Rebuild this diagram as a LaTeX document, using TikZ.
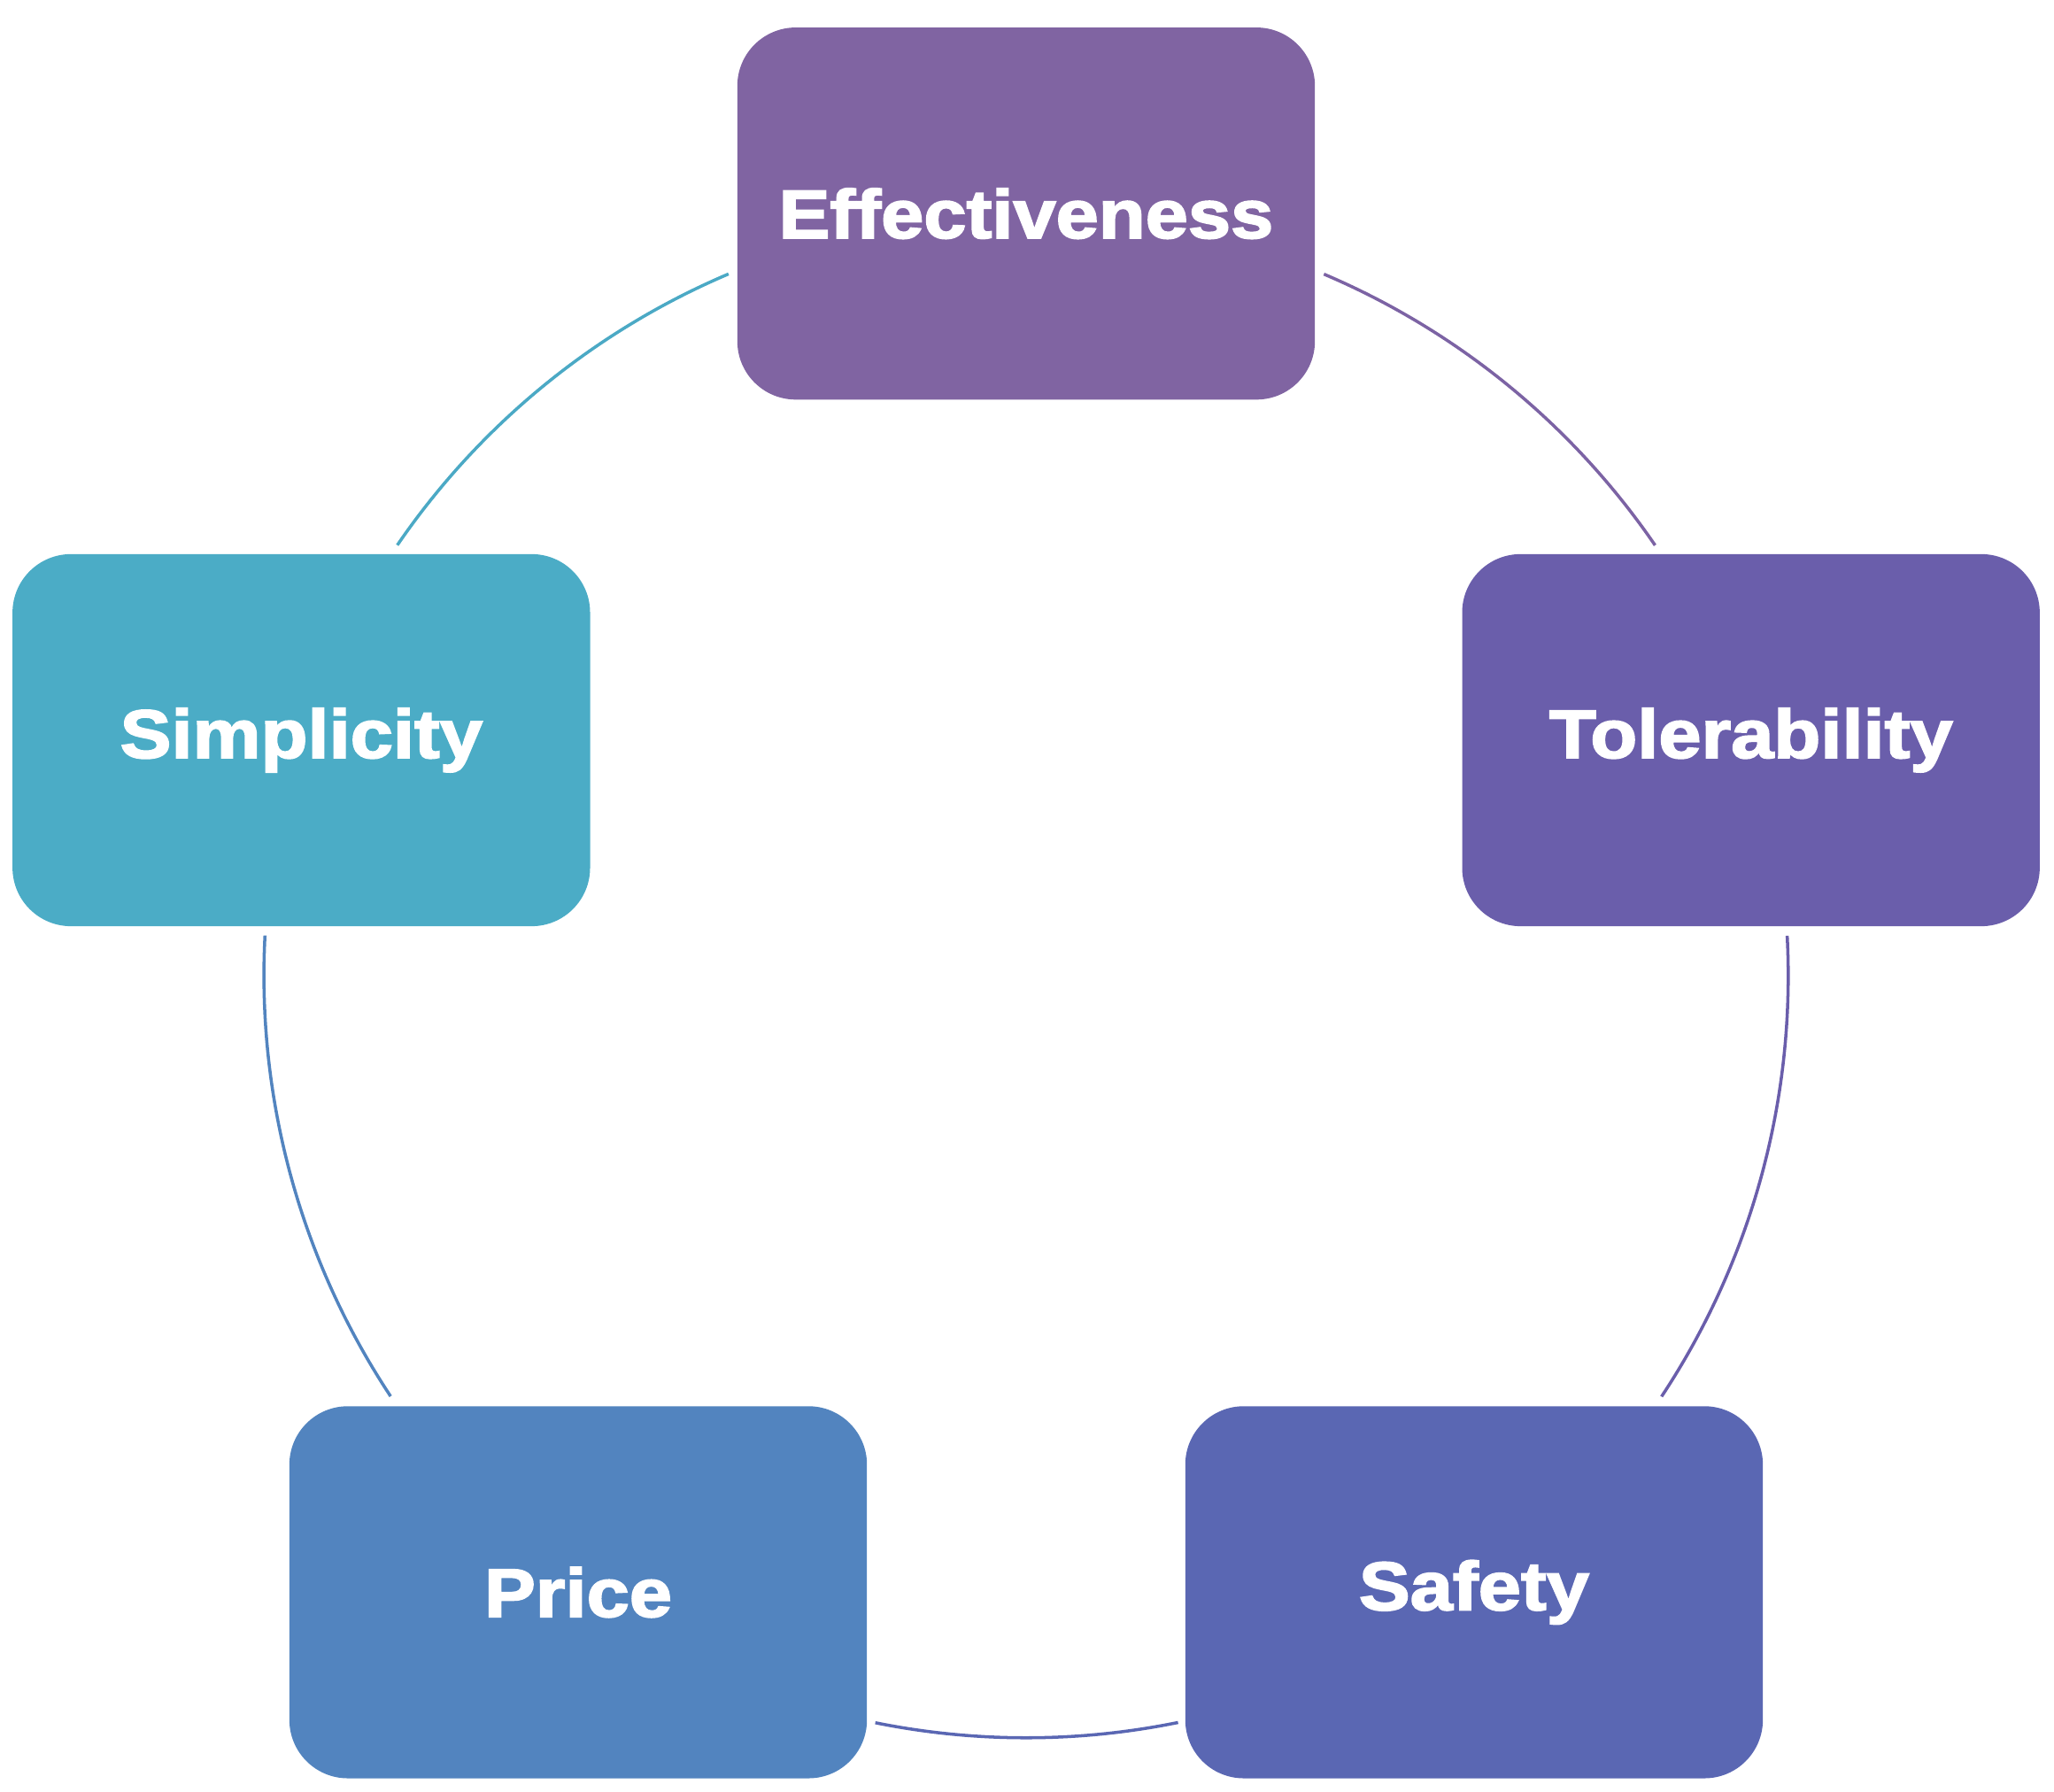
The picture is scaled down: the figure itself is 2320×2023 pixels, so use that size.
\documentclass[tikz,border=0pt]{standalone}
\usepackage{fontspec}
\setmainfont{Liberation Sans}[BoldFeatures={FakeBold=2.5,FakeStretch=1.12}]
\usetikzlibrary{positioning,calc}
\definecolor{effcol}{HTML}{8064A2}
\definecolor{tolcol}{HTML}{6A5EAB}
\definecolor{safcol}{HTML}{5A67B3}
\definecolor{pricol}{HTML}{5284BF}
\definecolor{simcol}{HTML}{4BACC6}
\tikzset{box/.style={rectangle, rounded corners=0.66cm, minimum width=6.52cm,
		minimum height=4.2cm, inner sep=0pt, text=white,
		font=\fontsize{22}{26}\selectfont\bfseries},
	ring/.style={line width=1pt}}

\begin{document}
\begin{tikzpicture}[x=0.01cm,y=0.01cm]
	\useasboundingbox (0,0) rectangle (2320,2023);
	\coordinate (ctr) at (1159,921);

	% the five boxes on the ring
	\node[box, fill=effcol] (eff) at ($(ctr)+(90:860.8)$) {Effectiveness};
	\node[box, fill=tolcol] (tol) at ($(ctr)+(18:860.8)$) {Tolerability};
	\node[box, fill=safcol] (saf) at ($(ctr)+(-54:860.8)$) {Safety};
	\node[box, fill=pricol] (pri) at ($(ctr)+(-126:860.8)$) {Price};
	\node[box, fill=simcol] (sim) at ($(ctr)+(162:860.8)$) {Simplicity};

	% arcs between the boxes
	\draw[ring, effcol!80!tolcol] ($(ctr)+(67:860.8)$) arc[start angle=67, end angle=34.4, radius=8.608cm];
	\draw[ring, tolcol] ($(ctr)+(3:860.8)$) arc[start angle=3, end angle=-33.5, radius=8.608cm];
	\draw[ring, safcol] ($(ctr)+(-78.5:860.8)$) arc[start angle=-78.5, end angle=-101.4, radius=8.608cm];
	\draw[ring, pricol] ($(ctr)+(-146.5:860.8)$) arc[start angle=-146.5, end angle=-183, radius=8.608cm];
	\draw[ring, simcol!92!pricol] ($(ctr)+(145.6:860.8)$) arc[start angle=145.6, end angle=113, radius=8.608cm];
\end{tikzpicture}
\end{document}
